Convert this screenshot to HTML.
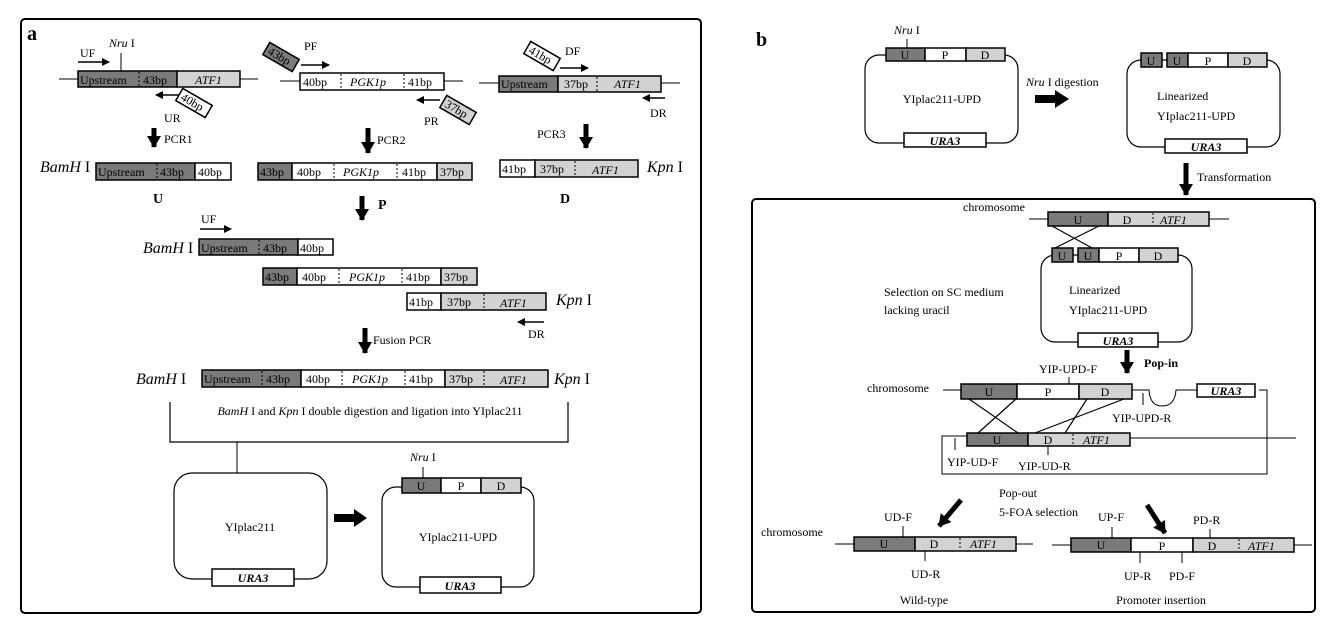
<!DOCTYPE html>
<html><head><meta charset="utf-8"><style>
html,body{margin:0;padding:0;background:#fff}
svg text{font-family:"Liberation Serif",serif;fill:#000}
.i{font-style:italic}
.b{font-weight:bold}
</style></head><body>
<svg width="1340" height="623" viewBox="0 0 1340 623" xmlns="http://www.w3.org/2000/svg">
<defs>
<marker id="ah" markerWidth="8" markerHeight="8" refX="7" refY="4" orient="auto" markerUnits="userSpaceOnUse"><path d="M0,0 L8,4 L0,8 Z" fill="#000"/></marker>
<marker id="bh" markerWidth="12" markerHeight="14" refX="11" refY="7" orient="auto" markerUnits="userSpaceOnUse"><path d="M0,0 L12,7 L0,14 Z" fill="#000"/></marker>
</defs>
<g stroke="#000" fill="none">
<rect x="21" y="19" width="680" height="594" rx="4" stroke-width="2"/>
<rect x="752" y="199" width="563" height="413" rx="4" stroke-width="2"/>
</g>
<g font-size="12">
<text x="27" y="40" font-size="20" class="b">a</text>
<text x="756" y="46" font-size="20" class="b">b</text>

<text x="80" y="57">UF</text>
<line x1="78" y1="62" x2="109" y2="62" stroke="#000" stroke-width="1.5" marker-end="url(#ah)"/>
<text x="109" y="47" class="i">Nru <tspan font-style="normal">I</tspan></text>
<line x1="121" y1="53" x2="121" y2="71" stroke="#000"/>
<line x1="59" y1="79" x2="258" y2="79" stroke="#000"/>
<rect x="78" y="71" width="99" height="16" fill="#7a7a7a" stroke="#000" stroke-width="1.5"/>
<rect x="177" y="71" width="63" height="16" fill="#d2d2d2" stroke="#000" stroke-width="1.5"/>
<line x1="139" y1="72" x2="139" y2="86" stroke="#000" stroke-dasharray="2,2"/>
<text x="80" y="84">Upstream</text><text x="143" y="84">43bp</text><text x="195" y="84" class="i">ATF1</text>
<line x1="179" y1="95" x2="156" y2="95" stroke="#000" stroke-width="1.5" marker-end="url(#ah)"/>
<g transform="translate(194,103) rotate(30)"><rect x="-17" y="-7" width="34" height="14" fill="#fff" stroke="#000" stroke-width="1.5"/><text x="-14" y="4">40bp</text></g>
<text x="164" y="122">UR</text>
<line x1="154" y1="128" x2="154" y2="147" stroke="#000" stroke-width="5" marker-end="url(#bh)"/>
<text x="164" y="143">PCR1</text>
<text x="40" y="172" font-size="16" class="i">BamH <tspan font-style="normal">I</tspan></text>
<rect x="96" y="163" width="99" height="17" fill="#7a7a7a" stroke="#000" stroke-width="1.5"/>
<rect x="195" y="163" width="36" height="17" fill="#fff" stroke="#000" stroke-width="1.5"/>
<line x1="157" y1="164" x2="157" y2="179" stroke="#000" stroke-dasharray="2,2"/>
<text x="98" y="176">Upstream</text><text x="160" y="176">43bp</text><text x="198" y="176">40bp</text>
<text x="153" y="203" font-size="14" class="b">U</text>

<g transform="translate(281,57) rotate(30)"><rect x="-17" y="-7" width="34" height="14" fill="#7a7a7a" stroke="#000" stroke-width="1.5"/><text x="-14" y="4">43bp</text></g>
<text x="304" y="50">PF</text>
<line x1="301" y1="65" x2="329" y2="65" stroke="#000" stroke-width="1.5" marker-end="url(#ah)"/>
<line x1="280" y1="81" x2="463" y2="81" stroke="#000"/>
<rect x="300" y="73" width="144" height="17" fill="#fff" stroke="#000" stroke-width="1.5"/>
<line x1="341" y1="74" x2="341" y2="89" stroke="#000" stroke-dasharray="2,2"/>
<line x1="404" y1="74" x2="404" y2="89" stroke="#000" stroke-dasharray="2,2"/>
<text x="303" y="86">40bp</text><text x="350" y="86" class="i">PGK1p</text><text x="408" y="86">41bp</text>
<line x1="440" y1="100" x2="417" y2="100" stroke="#000" stroke-width="1.5" marker-end="url(#ah)"/>
<g transform="translate(458,110) rotate(30)"><rect x="-17" y="-7" width="34" height="14" fill="#d2d2d2" stroke="#000" stroke-width="1.5"/><text x="-14" y="4">37bp</text></g>
<text x="424" y="125">PR</text>
<line x1="368" y1="128" x2="368" y2="153" stroke="#000" stroke-width="5" marker-end="url(#bh)"/>
<text x="377" y="144">PCR2</text>
<rect x="258" y="163" width="34" height="17" fill="#7a7a7a" stroke="#000" stroke-width="1.5"/>
<rect x="292" y="163" width="145" height="17" fill="#fff" stroke="#000" stroke-width="1.5"/>
<rect x="437" y="163" width="35" height="17" fill="#d2d2d2" stroke="#000" stroke-width="1.5"/>
<line x1="334" y1="164" x2="334" y2="179" stroke="#000" stroke-dasharray="2,2"/>
<line x1="397" y1="164" x2="397" y2="179" stroke="#000" stroke-dasharray="2,2"/>
<text x="260" y="176">43bp</text><text x="297" y="176">40bp</text><text x="343" y="176" class="i">PGK1p</text><text x="402" y="176">41bp</text><text x="440" y="176">37bp</text>
<line x1="362" y1="196" x2="362" y2="220" stroke="#000" stroke-width="5" marker-end="url(#bh)"/>
<text x="378" y="209" font-size="14" class="b">P</text>

<g transform="translate(542,56) rotate(30)"><rect x="-17" y="-7" width="34" height="14" fill="#fff" stroke="#000" stroke-width="1.5"/><text x="-14" y="4">41bp</text></g>
<text x="565" y="55">DF</text>
<line x1="560" y1="68" x2="588" y2="68" stroke="#000" stroke-width="1.5" marker-end="url(#ah)"/>
<line x1="479" y1="83" x2="680" y2="83" stroke="#000"/>
<rect x="499" y="76" width="59" height="16" fill="#7a7a7a" stroke="#000" stroke-width="1.5"/>
<rect x="558" y="76" width="103" height="16" fill="#d2d2d2" stroke="#000" stroke-width="1.5"/>
<line x1="597" y1="77" x2="597" y2="91" stroke="#000" stroke-dasharray="2,2"/>
<text x="501" y="88">Upstream</text><text x="564" y="88">37bp</text><text x="614" y="88" class="i">ATF1</text>
<line x1="665" y1="98" x2="643" y2="98" stroke="#000" stroke-width="1.5" marker-end="url(#ah)"/>
<text x="650" y="117">DR</text>
<text x="537" y="138">PCR3</text>
<line x1="586" y1="124" x2="586" y2="148" stroke="#000" stroke-width="5" marker-end="url(#bh)"/>
<rect x="500" y="160" width="35" height="17" fill="#fff" stroke="#000" stroke-width="1.5"/>
<rect x="535" y="160" width="103" height="17" fill="#d2d2d2" stroke="#000" stroke-width="1.5"/>
<line x1="575" y1="161" x2="575" y2="176" stroke="#000" stroke-dasharray="2,2"/>
<text x="502" y="173">41bp</text><text x="540" y="173">37bp</text><text x="592" y="174" class="i">ATF1</text>
<text x="647" y="172" font-size="16" class="i">Kpn <tspan font-style="normal">I</tspan></text>
<text x="560" y="203" font-size="14" class="b">D</text>

<text x="201" y="223">UF</text>
<line x1="200" y1="229" x2="231" y2="229" stroke="#000" stroke-width="1.5" marker-end="url(#ah)"/>
<text x="143" y="253" font-size="16" class="i">BamH <tspan font-style="normal">I</tspan></text>
<rect x="199" y="239" width="99" height="16" fill="#7a7a7a" stroke="#000" stroke-width="1.5"/>
<rect x="298" y="239" width="35" height="16" fill="#fff" stroke="#000" stroke-width="1.5"/>
<line x1="259" y1="240" x2="259" y2="254" stroke="#000" stroke-dasharray="2,2"/>
<text x="201" y="252">Upstream</text><text x="263" y="252">43bp</text><text x="300" y="252">40bp</text>
<rect x="263" y="268" width="34" height="17" fill="#7a7a7a" stroke="#000" stroke-width="1.5"/>
<rect x="297" y="268" width="144" height="17" fill="#fff" stroke="#000" stroke-width="1.5"/>
<rect x="441" y="268" width="36" height="17" fill="#d2d2d2" stroke="#000" stroke-width="1.5"/>
<line x1="339" y1="269" x2="339" y2="284" stroke="#000" stroke-dasharray="2,2"/>
<line x1="402" y1="269" x2="402" y2="284" stroke="#000" stroke-dasharray="2,2"/>
<text x="265" y="281">43bp</text><text x="302" y="281">40bp</text><text x="349" y="281" class="i">PGK1p</text><text x="406" y="281">41bp</text><text x="444" y="281">37bp</text>
<rect x="407" y="293" width="34" height="17" fill="#fff" stroke="#000" stroke-width="1.5"/>
<rect x="441" y="293" width="105" height="17" fill="#d2d2d2" stroke="#000" stroke-width="1.5"/>
<line x1="484" y1="294" x2="484" y2="309" stroke="#000" stroke-dasharray="2,2"/>
<text x="409" y="306">41bp</text><text x="447" y="306">37bp</text><text x="500" y="307" class="i">ATF1</text>
<text x="556" y="305" font-size="16" class="i">Kpn <tspan font-style="normal">I</tspan></text>
<line x1="544" y1="322" x2="518" y2="322" stroke="#000" stroke-width="1.5" marker-end="url(#ah)"/>
<text x="528" y="338">DR</text>
<line x1="365" y1="328" x2="365" y2="353" stroke="#000" stroke-width="5" marker-end="url(#bh)"/>
<text x="373" y="344">Fusion PCR</text>

<text x="136" y="384" font-size="16" class="i">BamH <tspan font-style="normal">I</tspan></text>
<rect x="202" y="370" width="99" height="17" fill="#7a7a7a" stroke="#000" stroke-width="1.5"/>
<rect x="301" y="370" width="144" height="17" fill="#fff" stroke="#000" stroke-width="1.5"/>
<rect x="445" y="370" width="103" height="17" fill="#d2d2d2" stroke="#000" stroke-width="1.5"/>
<line x1="262" y1="371" x2="262" y2="386" stroke="#000" stroke-dasharray="2,2"/>
<line x1="342" y1="371" x2="342" y2="386" stroke="#000" stroke-dasharray="2,2"/>
<line x1="405" y1="371" x2="405" y2="386" stroke="#000" stroke-dasharray="2,2"/>
<line x1="484" y1="371" x2="484" y2="386" stroke="#000" stroke-dasharray="2,2"/>
<text x="204" y="383">Upstream</text><text x="266" y="383">43bp</text><text x="306" y="383">40bp</text><text x="352" y="383" class="i">PGK1p</text><text x="409" y="383">41bp</text><text x="449" y="383">37bp</text><text x="500" y="384" class="i">ATF1</text>
<text x="554" y="384" font-size="16" class="i">Kpn <tspan font-style="normal">I</tspan></text>
<path d="M170,402 V442 H568 V402" fill="none" stroke="#000" stroke-width="1.2"/>
<text x="370" y="415" text-anchor="middle"><tspan class="i">BamH</tspan> I and <tspan class="i">Kpn</tspan> I double digestion and ligation into YIplac211</text>
<line x1="237" y1="442" x2="237" y2="473" stroke="#000"/>
<rect x="174" y="473" width="153" height="106" rx="18" fill="none" stroke="#000" stroke-width="1.2"/>
<text x="250" y="531" text-anchor="middle">YIplac211</text>
<rect x="212" y="569" width="82" height="17" fill="#fff" stroke="#000" stroke-width="1.5"/>
<text x="253" y="582" text-anchor="middle" class="i b">URA3</text>
<path d="M334,514 H354 V509 L367,518 L354,527 V522 H334 Z" fill="#000"/>
<rect x="382" y="487" width="152" height="100" rx="14" fill="none" stroke="#000" stroke-width="1.2"/>
<rect x="402" y="478" width="39" height="15" fill="#7a7a7a" stroke="#000" stroke-width="1.5"/>
<rect x="441" y="478" width="40" height="15" fill="#fff" stroke="#000" stroke-width="1.5"/>
<rect x="481" y="478" width="40" height="15" fill="#d2d2d2" stroke="#000" stroke-width="1.5"/>
<text x="421" y="490" text-anchor="middle">U</text><text x="461" y="490" text-anchor="middle">P</text><text x="501" y="490" text-anchor="middle">D</text>
<text x="410" y="461" class="i">Nru <tspan font-style="normal">I</tspan></text>
<line x1="423" y1="467" x2="423" y2="478" stroke="#000"/>
<text x="458" y="541" text-anchor="middle">YIplac211-UPD</text>
<rect x="420" y="577" width="81" height="16" fill="#fff" stroke="#000" stroke-width="1.5"/>
<text x="460" y="590" text-anchor="middle" class="i b">URA3</text>

<text x="894" y="34" class="i">Nru <tspan font-style="normal">I</tspan></text>
<line x1="907" y1="39" x2="907" y2="48" stroke="#000"/>
<rect x="865" y="55" width="153" height="88" rx="14" fill="none" stroke="#000" stroke-width="1.2"/>
<rect x="886" y="48" width="39" height="13" fill="#7a7a7a" stroke="#000" stroke-width="1.5"/>
<rect x="925" y="48" width="41" height="13" fill="#fff" stroke="#000" stroke-width="1.5"/>
<rect x="966" y="48" width="39" height="13" fill="#d2d2d2" stroke="#000" stroke-width="1.5"/>
<text x="905" y="59" text-anchor="middle">U</text><text x="945" y="59" text-anchor="middle">P</text><text x="985" y="59" text-anchor="middle">D</text>
<text x="942" y="103" text-anchor="middle">YIplac211-UPD</text>
<rect x="904" y="133" width="82" height="14" fill="#fff" stroke="#000" stroke-width="1.5"/>
<text x="945" y="145" text-anchor="middle" class="i b">URA3</text>
<text x="1026" y="86" class="i">Nru <tspan font-style="normal">I digestion</tspan></text>
<path d="M1035,95 H1055 V90 L1069,99 L1055,108 V103 H1035 Z" fill="#000"/>
<rect x="1127" y="60" width="153" height="87" rx="14" fill="none" stroke="#000" stroke-width="1.2"/>
<rect x="1141" y="53" width="21" height="14" fill="#7a7a7a" stroke="#000" stroke-width="1.5"/>
<rect x="1167" y="53" width="21" height="14" fill="#7a7a7a" stroke="#000" stroke-width="1.5"/>
<rect x="1188" y="53" width="40" height="14" fill="#fff" stroke="#000" stroke-width="1.5"/>
<rect x="1228" y="53" width="39" height="14" fill="#d2d2d2" stroke="#000" stroke-width="1.5"/>
<text x="1151" y="65" text-anchor="middle">U</text><text x="1177" y="65" text-anchor="middle">U</text><text x="1208" y="65" text-anchor="middle">P</text><text x="1247" y="65" text-anchor="middle">D</text>
<text x="1157" y="100">Linearized</text>
<text x="1157" y="120">YIplac211-UPD</text>
<rect x="1165" y="139" width="82" height="14" fill="#fff" stroke="#000" stroke-width="1.5"/>
<text x="1206" y="151" text-anchor="middle" class="i b">URA3</text>
<line x1="1186" y1="163" x2="1186" y2="195" stroke="#000" stroke-width="5" marker-end="url(#bh)"/>
<text x="1197" y="181">Transformation</text>

<text x="963" y="211">chromosome</text>
<line x1="1029" y1="219" x2="1229" y2="219" stroke="#000"/>
<rect x="1048" y="212" width="60" height="14" fill="#7a7a7a" stroke="#000" stroke-width="1.5"/>
<rect x="1108" y="212" width="101" height="14" fill="#d2d2d2" stroke="#000" stroke-width="1.5"/>
<line x1="1153" y1="213" x2="1153" y2="225" stroke="#000" stroke-dasharray="2,2"/>
<text x="1078" y="224" text-anchor="middle">U</text><text x="1127" y="224" text-anchor="middle">D</text><text x="1160" y="224" class="i">ATF1</text>
<line x1="1052" y1="226" x2="1092" y2="248" stroke="#000" stroke-width="1.2"/>
<line x1="1099" y1="226" x2="1055" y2="248" stroke="#000" stroke-width="1.2"/>
<rect x="1041" y="255" width="151" height="87" rx="14" fill="none" stroke="#000" stroke-width="1.2"/>
<rect x="1052" y="248" width="21" height="14" fill="#7a7a7a" stroke="#000" stroke-width="1.5"/>
<rect x="1078" y="248" width="21" height="14" fill="#7a7a7a" stroke="#000" stroke-width="1.5"/>
<rect x="1099" y="248" width="40" height="14" fill="#fff" stroke="#000" stroke-width="1.5"/>
<rect x="1139" y="248" width="39" height="14" fill="#d2d2d2" stroke="#000" stroke-width="1.5"/>
<text x="1062" y="260" text-anchor="middle">U</text><text x="1088" y="260" text-anchor="middle">U</text><text x="1119" y="260" text-anchor="middle">P</text><text x="1158" y="260" text-anchor="middle">D</text>
<text x="884" y="296">Selection on SC medium</text>
<text x="884" y="314">lacking uracil</text>
<text x="1069" y="294">Linearized</text>
<text x="1069" y="314">YIplac211-UPD</text>
<rect x="1078" y="333" width="80" height="14" fill="#fff" stroke="#000" stroke-width="1.5"/>
<text x="1118" y="345" text-anchor="middle" class="i b">URA3</text>
<line x1="1127" y1="350" x2="1127" y2="373" stroke="#000" stroke-width="5" marker-end="url(#bh)"/>
<text x="1144" y="367" class="b">Pop-in</text>
<text x="1039" y="373">YIP-UPD-F</text>
<line x1="1069" y1="377" x2="1069" y2="384" stroke="#000"/>
<text x="867" y="392">chromosome</text>
<line x1="943" y1="390" x2="961" y2="390" stroke="#000"/>
<rect x="961" y="384" width="56" height="15" fill="#7a7a7a" stroke="#000" stroke-width="1.5"/>
<rect x="1017" y="384" width="62" height="15" fill="#fff" stroke="#000" stroke-width="1.5"/>
<rect x="1079" y="384" width="53" height="15" fill="#d2d2d2" stroke="#000" stroke-width="1.5"/>
<text x="989" y="396" text-anchor="middle" fill="#fff">U</text><text x="1048" y="396" text-anchor="middle">P</text><text x="1105" y="396" text-anchor="middle">D</text>
<path d="M1132,390 H1149 Q1150,406 1162,406 Q1175,406 1176,390 H1197" fill="none" stroke="#000"/>
<rect x="1197" y="384" width="58" height="13" fill="#fff" stroke="#000" stroke-width="1.5"/>
<text x="1226" y="395" text-anchor="middle" class="i b">URA3</text>
<path d="M1259,390 H1267 V474 H942 V436 H967" fill="none" stroke="#000"/>
<line x1="1143" y1="393" x2="1143" y2="405" stroke="#000"/>
<text x="1112" y="422">YIP-UPD-R</text>
<g stroke="#000" stroke-width="1.2">
<line x1="969" y1="399" x2="1018" y2="433"/>
<line x1="1016" y1="399" x2="978" y2="433"/>
<line x1="1087" y1="399" x2="1065" y2="433"/>
<line x1="1124" y1="399" x2="1035" y2="433"/>
</g>
<line x1="1130" y1="438" x2="1296" y2="438" stroke="#000"/>
<rect x="967" y="433" width="61" height="13" fill="#7a7a7a" stroke="#000" stroke-width="1.5"/>
<rect x="1028" y="433" width="102" height="13" fill="#d2d2d2" stroke="#000" stroke-width="1.5"/>
<line x1="1073" y1="434" x2="1073" y2="445" stroke="#000" stroke-dasharray="2,2"/>
<text x="997" y="444" text-anchor="middle">U</text><text x="1048" y="444" text-anchor="middle">D</text><text x="1083" y="444" class="i">ATF1</text>
<line x1="955" y1="438" x2="955" y2="450" stroke="#000"/>
<text x="947" y="466">YIP-UD-F</text>
<line x1="1048" y1="446" x2="1048" y2="455" stroke="#000"/>
<text x="1018" y="470">YIP-UD-R</text>
<text x="999" y="497">Pop-out</text>
<text x="999" y="516">5-FOA selection</text>
<line x1="961" y1="500" x2="939" y2="526" stroke="#000" stroke-width="5" marker-end="url(#bh)"/>
<line x1="1147" y1="505" x2="1165" y2="533" stroke="#000" stroke-width="5" marker-end="url(#bh)"/>

<text x="761" y="536">chromosome</text>
<line x1="835" y1="544" x2="1033" y2="544" stroke="#000"/>
<rect x="854" y="537" width="61" height="14" fill="#7a7a7a" stroke="#000" stroke-width="1.5"/>
<rect x="915" y="537" width="101" height="14" fill="#d2d2d2" stroke="#000" stroke-width="1.5"/>
<line x1="960" y1="538" x2="960" y2="550" stroke="#000" stroke-dasharray="2,2"/>
<text x="884" y="548" text-anchor="middle">U</text><text x="934" y="548" text-anchor="middle">D</text><text x="970" y="548" class="i">ATF1</text>
<text x="884" y="521">UD-F</text>
<line x1="903" y1="526" x2="903" y2="537" stroke="#000"/>
<line x1="925" y1="551" x2="925" y2="561" stroke="#000"/>
<text x="911" y="578">UD-R</text>
<text x="924" y="604" text-anchor="middle">Wild-type</text>

<line x1="1052" y1="545" x2="1312" y2="545" stroke="#000"/>
<rect x="1071" y="538" width="60" height="14" fill="#7a7a7a" stroke="#000" stroke-width="1.5"/>
<rect x="1131" y="538" width="62" height="14" fill="#fff" stroke="#000" stroke-width="1.5"/>
<rect x="1193" y="538" width="101" height="14" fill="#d2d2d2" stroke="#000" stroke-width="1.5"/>
<line x1="1239" y1="539" x2="1239" y2="551" stroke="#000" stroke-dasharray="2,2"/>
<text x="1101" y="549" text-anchor="middle">U</text><text x="1162" y="550" text-anchor="middle">P</text><text x="1212" y="550" text-anchor="middle">D</text><text x="1248" y="550" class="i">ATF1</text>
<text x="1098" y="521">UP-F</text>
<line x1="1112" y1="527" x2="1112" y2="538" stroke="#000"/>
<text x="1193" y="524">PD-R</text>
<line x1="1210" y1="529" x2="1210" y2="538" stroke="#000"/>
<line x1="1140" y1="552" x2="1140" y2="563" stroke="#000"/>
<text x="1124" y="580">UP-R</text>
<line x1="1182" y1="552" x2="1182" y2="563" stroke="#000"/>
<text x="1169" y="580">PD-F</text>
<text x="1161" y="604" text-anchor="middle">Promoter insertion</text>
</g>
</svg>
</body></html>
